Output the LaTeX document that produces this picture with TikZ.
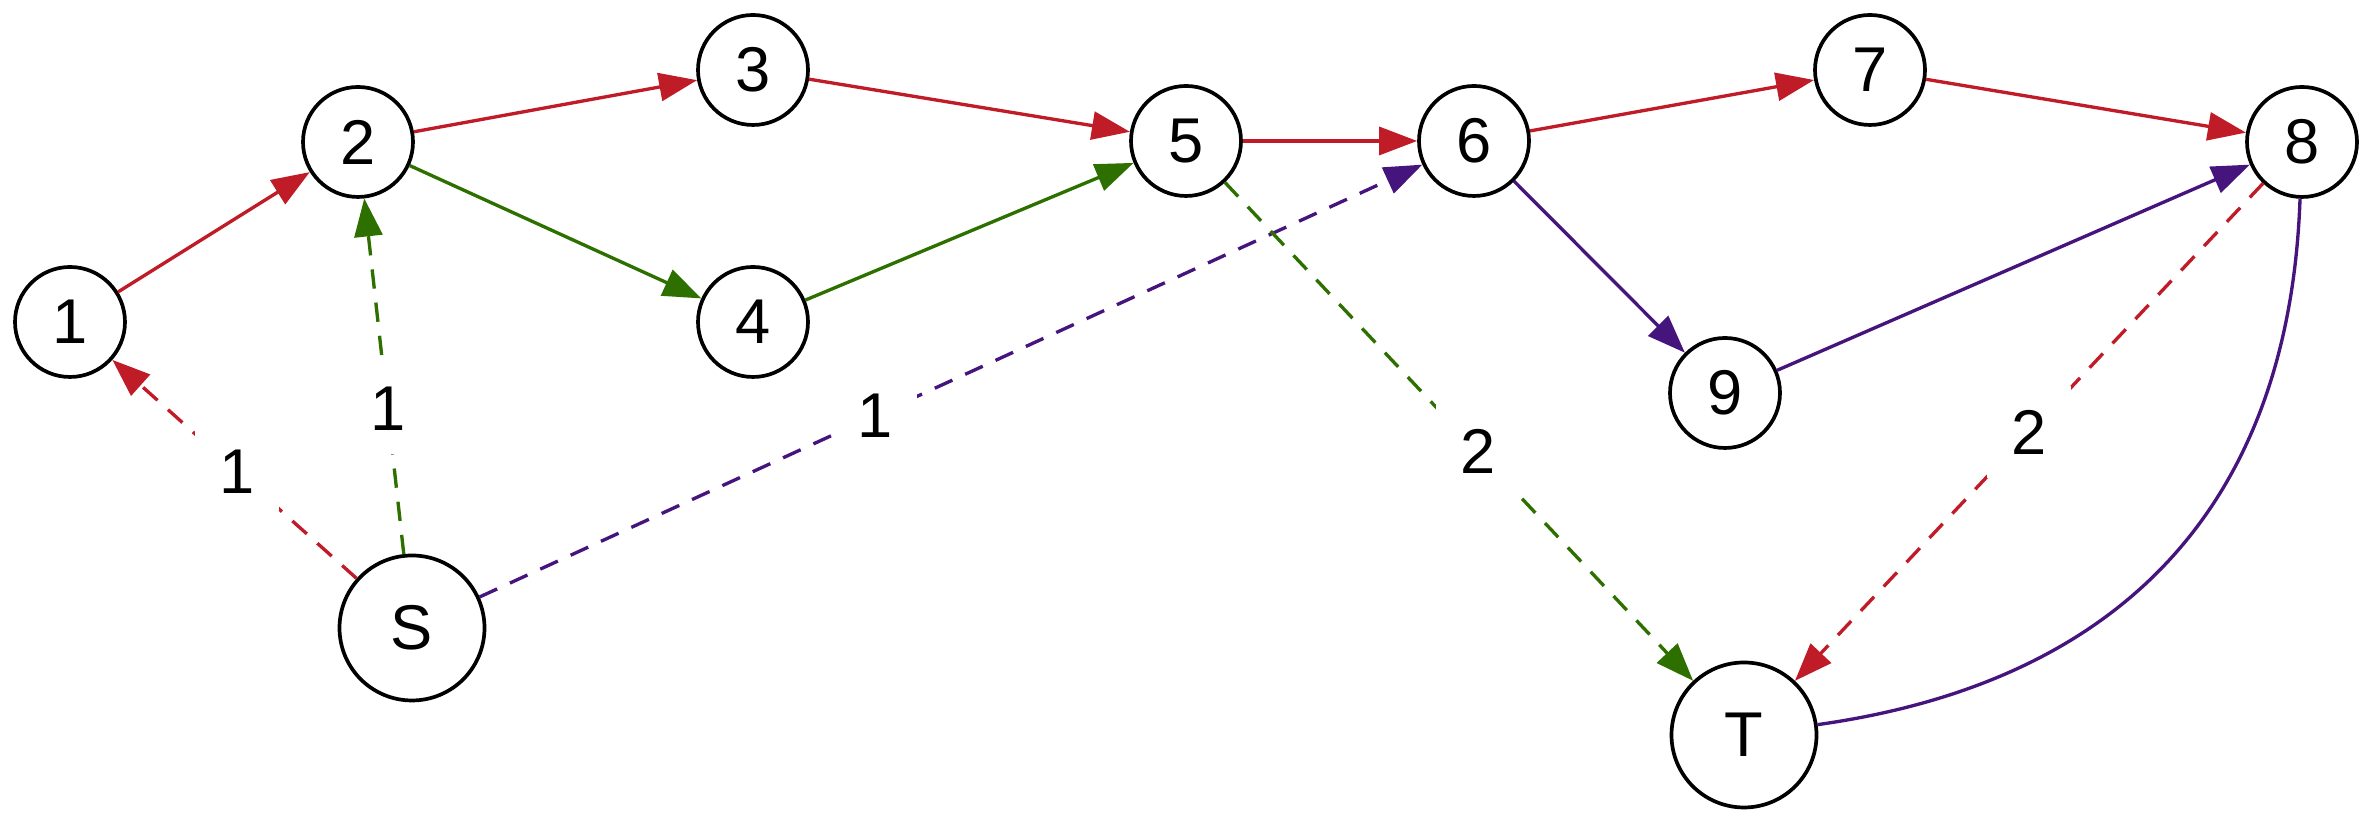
\documentclass[tikz,border=0pt]{standalone}
\usepackage{fontspec}
\setmainfont{Liberation Sans}
\usetikzlibrary{arrows.meta}
\definecolor{edgered}{RGB}{192,28,40}
\definecolor{edgegreen}{RGB}{45,112,0}
\definecolor{edgepurple}{RGB}{70,20,125}

\begin{document}
\begin{tikzpicture}[x=1cm, y=1cm, >={Triangle[length=0.38cm, width=0.28cm]}, line width=0.95pt,
		vertex/.style={circle, draw=black, line width=1.05pt, minimum size=1.1cm, inner sep=0pt, font=\fontsize{18}{20}\selectfont},
		bigvertex/.style={vertex, minimum size=1.45cm},
		residual/.style={->, dash pattern=on 5.5pt off 4pt},
		weight/.style={fill=white, inner sep=0.24cm, text=black, font=\fontsize{18}{20}\selectfont}]
	\useasboundingbox (0,0) rectangle (23.72,8.24);
	
	% 1. 顶点
	\node[vertex] (n1) at (0.70, 5.02) {1};
	\node[vertex] (n2) at (3.58, 6.82) {2};
	\node[vertex] (n3) at (7.53, 7.54) {3};
	\node[vertex] (n4) at (7.53, 5.02) {4};
	\node[vertex] (n5) at (11.86, 6.83) {5};
	\node[vertex] (n6) at (14.74, 6.83) {6};
	\node[vertex] (n7) at (18.70, 7.54) {7};
	\node[vertex] (n8) at (23.02, 6.82) {8};
	\node[vertex] (n9) at (17.25, 4.31) {9};
	\node[bigvertex] (s) at (4.12, 1.96) {S};
	\node[bigvertex] (t) at (17.44, 0.89) {T};
	
	% 2. 红色路径
	\draw[->, edgered] (n1) -- (n2);
	\draw[->, edgered] (n2) -- (n3);
	\draw[->, edgered] (n3) -- (n5);
	\draw[->, edgered] (n5) -- (n6);
	\draw[->, edgered] (n6) -- (n7);
	\draw[->, edgered] (n7) -- (n8);
	
	% 3. 绿色路径
	\draw[->, edgegreen] (n2) -- (n4);
	\draw[->, edgegreen] (n4) -- (n5);
	
	% 4. 紫色路径
	\draw[->, edgepurple] (n6) -- (n9);
	\draw[->, edgepurple] (n9) -- (n8);
	\draw[edgepurple] (t) to[out=8, in=-92, looseness=1.1] (n8);
	
	% 5. 虚线边与权重 (fill=white遮住线)
	\draw[residual, edgered] (s) -- node[weight, pos=0.49] {1} (n1);
	\draw[residual, edgegreen] (s) -- node[weight, pos=0.41] {1} (n2);
	\draw[residual, edgepurple] (s) -- node[weight, pos=0.42] {1} (n6);
	\draw[residual, edgegreen] (n5) -- node[weight, pos=0.54] {2} (t);
	\draw[residual, edgered] (n8) -- node[weight, pos=0.5] {2} (t);
\end{tikzpicture}
\end{document}
